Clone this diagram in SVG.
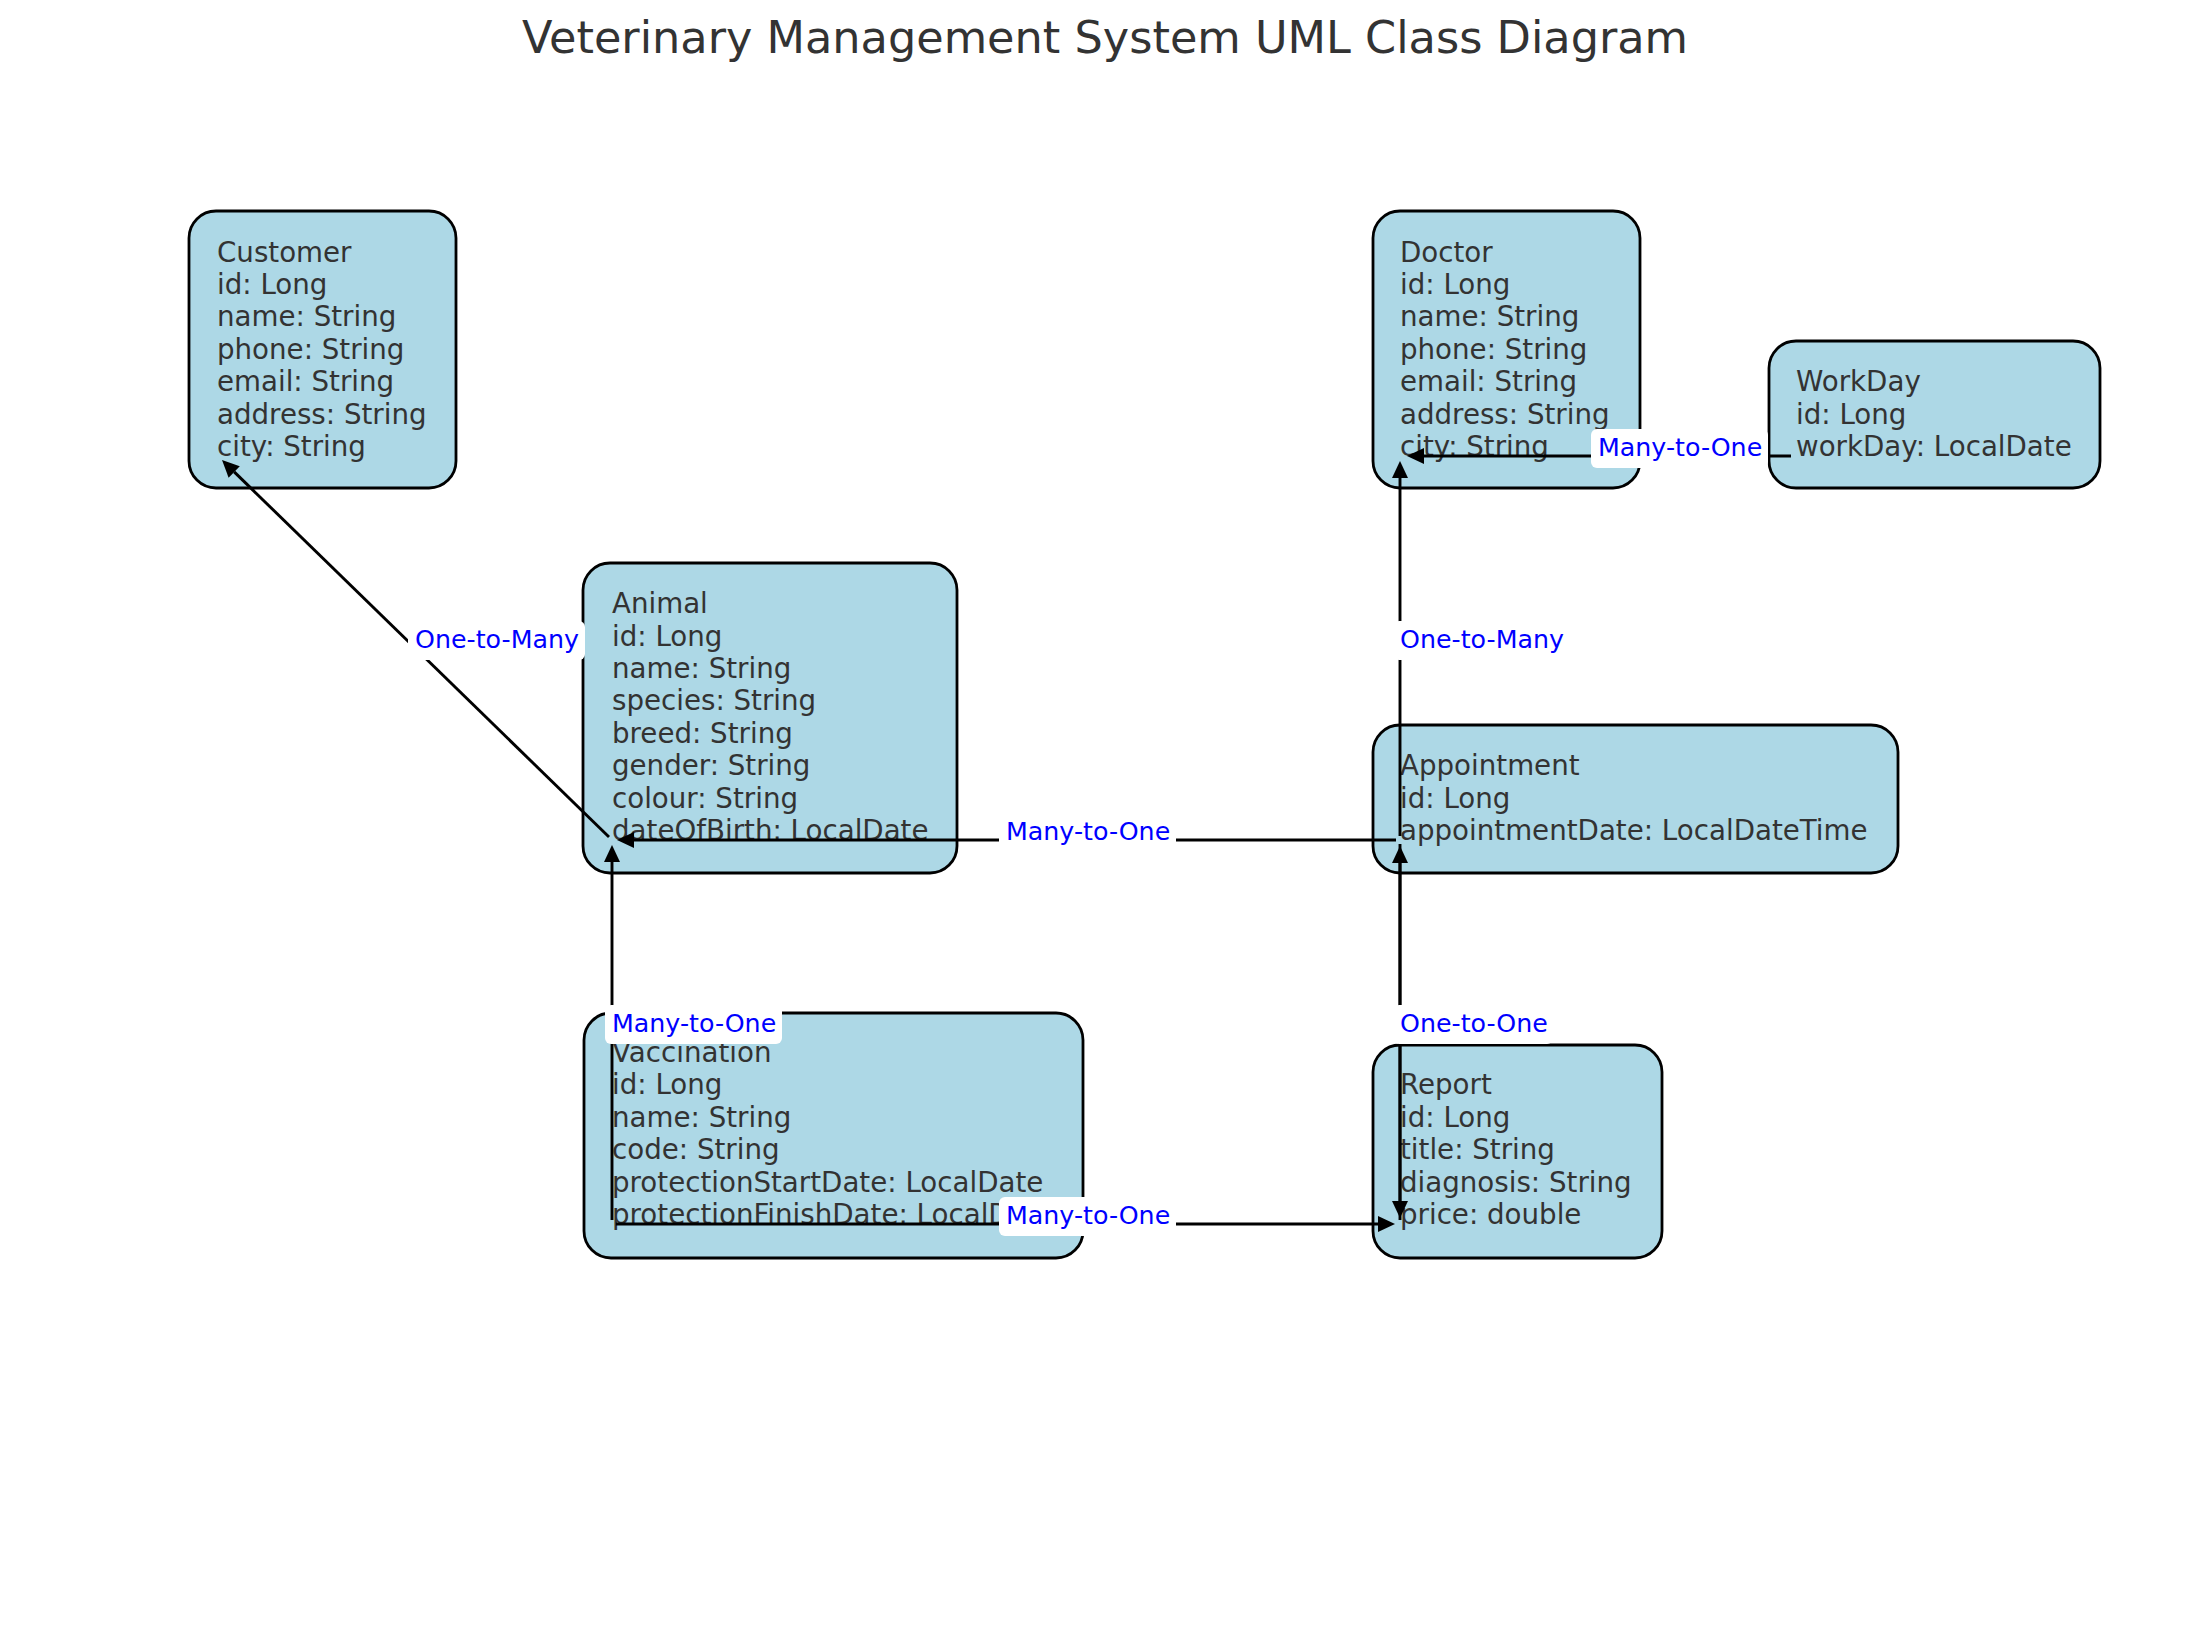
<svg xmlns="http://www.w3.org/2000/svg" width="2210" height="1630" viewBox="0 0 2210 1630">
<style>
.box{fill:#add8e6;stroke:#000;stroke-width:2.8}
.nt{font-family:"DejaVu Sans","Liberation Sans",sans-serif;font-size:27.7px;fill:#333}
.ln{fill:none;stroke:#000;stroke-width:2.9}
.lb{fill:#fff;stroke:none}
.lt{font-family:"DejaVu Sans","Liberation Sans",sans-serif;font-size:25.3px;fill:#0000ff}
.title{font-family:"DejaVu Sans","Liberation Sans",sans-serif;font-size:44.6px;fill:#333}
</style>
<defs>
<marker id="ah" markerUnits="userSpaceOnUse" markerWidth="17" markerHeight="16" viewBox="0 0 17 16" refX="0" refY="8" orient="auto" overflow="visible">
<path d="M0,0 L17,8 L0,16 z" fill="#000"/>
</marker>
</defs>
<rect width="2210" height="1630" fill="#fff"/>
<text class="title" x="1105" y="53" text-anchor="middle">Veterinary Management System UML Class Diagram</text>

<g id="customer">
<rect class="box" x="189" y="211" width="267" height="277" rx="27"/>
<text class="nt"><tspan x="217" y="261.6">Customer</tspan><tspan x="217" y="294">id: Long</tspan><tspan x="217" y="326.4">name: String</tspan><tspan x="217" y="358.8">phone: String</tspan><tspan x="217" y="391.2">email: String</tspan><tspan x="217" y="423.6">address: String</tspan><tspan x="217" y="456">city: String</tspan></text>
</g>
<g id="doctor">
<rect class="box" x="1373" y="211" width="267" height="277" rx="27"/>
<text class="nt"><tspan x="1400" y="261.6">Doctor</tspan><tspan x="1400" y="294">id: Long</tspan><tspan x="1400" y="326.4">name: String</tspan><tspan x="1400" y="358.8">phone: String</tspan><tspan x="1400" y="391.2">email: String</tspan><tspan x="1400" y="423.6">address: String</tspan><tspan x="1400" y="456">city: String</tspan></text>
</g>
<g id="workday">
<rect class="box" x="1769" y="341" width="331" height="147" rx="27"/>
<text class="nt"><tspan x="1796" y="391.2">WorkDay</tspan><tspan x="1796" y="423.6">id: Long</tspan><tspan x="1796" y="456">workDay: LocalDate</tspan></text>
</g>
<g id="animal">
<rect class="box" x="583" y="563" width="374" height="310" rx="27"/>
<text class="nt"><tspan x="612" y="613.2">Animal</tspan><tspan x="612" y="645.6">id: Long</tspan><tspan x="612" y="678">name: String</tspan><tspan x="612" y="710.4">species: String</tspan><tspan x="612" y="742.8">breed: String</tspan><tspan x="612" y="775.2">gender: String</tspan><tspan x="612" y="807.6">colour: String</tspan><tspan x="612" y="840">dateOfBirth: LocalDate</tspan></text>
</g>
<g id="appointment">
<rect class="box" x="1373" y="725" width="525" height="148" rx="27"/>
<text class="nt"><tspan x="1400" y="775.2">Appointment</tspan><tspan x="1400" y="807.6">id: Long</tspan><tspan x="1400" y="840">appointmentDate: LocalDateTime</tspan></text>
</g>
<g id="vaccination">
<rect class="box" x="584" y="1013" width="499" height="245" rx="27"/>
<text class="nt"><tspan x="612" y="1062">Vaccination</tspan><tspan x="612" y="1094.4">id: Long</tspan><tspan x="612" y="1126.8">name: String</tspan><tspan x="612" y="1159.2">code: String</tspan><tspan x="612" y="1191.6">protectionStartDate: LocalDate</tspan><tspan x="612" y="1224">protectionFinishDate: LocalDate</tspan></text>
</g>
<g id="report">
<rect class="box" x="1373" y="1045" width="289" height="213" rx="27"/>
<text class="nt"><tspan x="1400" y="1094.4">Report</tspan><tspan x="1400" y="1126.8">id: Long</tspan><tspan x="1400" y="1159.2">title: String</tspan><tspan x="1400" y="1191.6">diagnosis: String</tspan><tspan x="1400" y="1224">price: double</tspan></text>
</g>

<g id="connectors">
<path class="ln" d="M609,837 L234.2,471.9" marker-end="url(#ah)"/>
<path class="ln" d="M1396,840 L634,840" marker-end="url(#ah)"/>
<path class="ln" d="M1400,836 L1400,478" marker-end="url(#ah)"/>
<path class="ln" d="M1791,456 L1424,456" marker-end="url(#ah)"/>
<path class="ln" d="M612,1220 L612,862" marker-end="url(#ah)"/>
<path class="ln" d="M616,1224 L1378,1224" marker-end="url(#ah)"/>
<path class="ln" d="M1400,1220 L1400,863" marker-end="url(#ah)"/>
<path class="ln" d="M1400,844 L1400,1201" marker-end="url(#ah)"/>
</g>

<g id="labels">
<rect class="lb" x="408" y="621" width="177" height="39" rx="6"/>
<text class="lt" x="415" y="648">One-to-Many</text>
<rect class="lb" x="999" y="813" width="177" height="39" rx="6"/>
<text class="lt" x="1006" y="840">Many-to-One</text>
<rect class="lb" x="1393" y="621" width="177" height="39" rx="6"/>
<text class="lt" x="1400" y="648">One-to-Many</text>
<rect class="lb" x="1591" y="429" width="177" height="39" rx="6"/>
<text class="lt" x="1598" y="456">Many-to-One</text>
<rect class="lb" x="605" y="1005" width="177" height="39" rx="6"/>
<text class="lt" x="612" y="1032">Many-to-One</text>
<rect class="lb" x="999" y="1197" width="177" height="39" rx="6"/>
<text class="lt" x="1006" y="1224">Many-to-One</text>
<rect class="lb" x="1393" y="1005" width="160" height="39" rx="6"/>
<text class="lt" x="1400" y="1032">One-to-One</text>
</g>
</svg>
